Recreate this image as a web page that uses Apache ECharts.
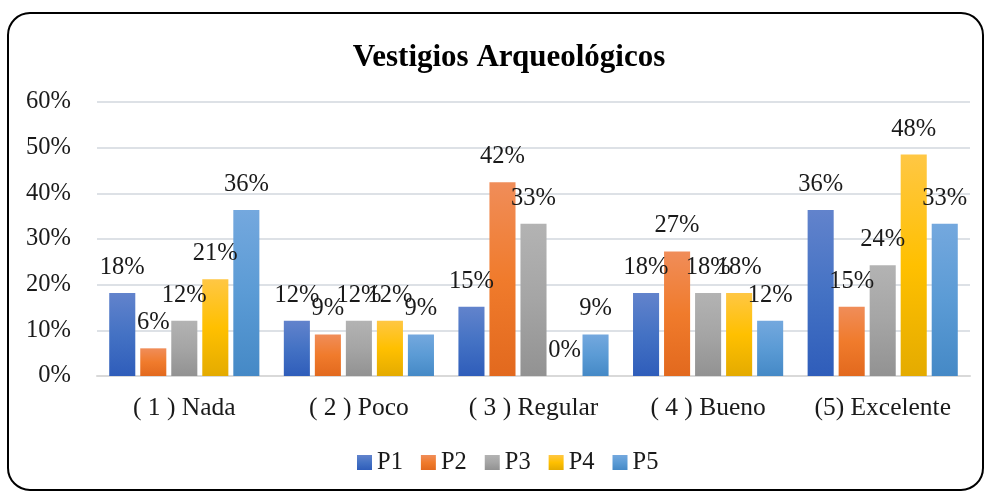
<!DOCTYPE html>
<html>
<head>
<meta charset="utf-8">
<script src="https://cdn.jsdelivr.net/npm/echarts@6/dist/echarts.min.js"></script>
<style>html,body{margin:0;padding:0;background:#fff;}#c{width:985px;height:492px;}</style>
</head>
<body>
<div id="c"></div>
<script>
var categories = ['( 1 ) Nada', '( 2 ) Poco', '( 3 ) Regular', '( 4 ) Bueno', '(5) Excelente'];
var seriesNames = ['P1', 'P2', 'P3', 'P4', 'P5'];
var P1 = [18.18, 12.12, 15.15, 18.18, 36.36];
var P2 = [6.06, 9.09, 42.42, 27.27, 15.15];
var P3 = [12.12, 12.12, 33.33, 18.18, 24.24];
var P4 = [21.21, 12.12, 0, 18.18, 48.48];
var P5 = [36.36, 9.09, 9.09, 12.12, 33.33];
var yTicks = [0, 10, 20, 30, 40, 50, 60];

var seriesData = [P1, P2, P3, P4, P5];
var colorStops = [
  ['#6283CC', '#4472C4', '#2F5DBA'],
  ['#F08D59', '#F07B2C', '#E2691E'],
  ['#B3B3B3', '#A5A5A5', '#929292'],
  ['#FFC744', '#FFC000', '#E4AB00'],
  ['#74A8DE', '#5B9BD5', '#4589C6']
];
var FONT = '"Liberation Serif", "Times New Roman", serif';
var chart = echarts.init(document.getElementById('c'), null, {renderer: 'canvas'});
var series = seriesNames.map(function (n, i) {
  return {
    name: n,
    type: 'bar',
    data: seriesData[i],
    barGap: '19%',
    barCategoryGap: '14%',
    itemStyle: {
      color: new echarts.graphic.LinearGradient(0, 0, 0, 1, [
        {offset: 0, color: colorStops[i][0]},
        {offset: 0.5, color: colorStops[i][1]},
        {offset: 1, color: colorStops[i][2]}
      ], false)
    },
    label: {
      show: true,
      position: 'top',
      distance: 13,
      fontFamily: FONT,
      fontSize: 24.5,
      color: '#1a1a1a',
      formatter: function (p) { return Math.round(p.value) + '%'; }
    }
  };
});
chart.setOption({
  animation: false,
  backgroundColor: '#fff',
  title: {
    text: 'Vestigios Arqueológicos',
    left: 504,
    textAlign: 'center',
    top: 37,
    textStyle: {fontFamily: FONT, fontWeight: 'bold', fontSize: 31, color: '#000'}
  },
  legend: {
    data: seriesNames,
    top: 445,
    left: 352,
    itemWidth: 15,
    itemHeight: 15,
    itemGap: 18,
    icon: 'rect',
    textStyle: {fontFamily: FONT, fontSize: 24.5, color: '#1a1a1a'}
  },
  grid: {left: 97, right: 15, top: 102, bottom: 116, containLabel: false},
  xAxis: {
    type: 'category',
    data: categories,
    axisLine: {show: true, lineStyle: {color: '#D9D9D9', width: 2}},
    axisTick: {show: false},
    axisLabel: {fontFamily: FONT, fontSize: 25.5, color: '#1a1a1a', margin: 19, interval: 0, hideOverlap: false}
  },
  yAxis: {
    type: 'value',
    min: yTicks[0],
    max: yTicks[yTicks.length - 1],
    interval: 10,
    axisLine: {show: false},
    axisTick: {show: false},
    splitLine: {lineStyle: {color: '#DDE1E6', width: 2}},
    axisLabel: {fontFamily: FONT, fontSize: 24.5, color: '#1a1a1a', margin: 26,
      formatter: function (v) { return v + '%'; }}
  },
  series: series,
  graphic: [{
    type: 'rect',
    shape: {x: 8, y: 13, width: 975, height: 477, r: 22},
    style: {fill: 'none', stroke: '#000', lineWidth: 2},
    silent: true,
    z: 100
  }]
});
</script>
</body>
</html>
